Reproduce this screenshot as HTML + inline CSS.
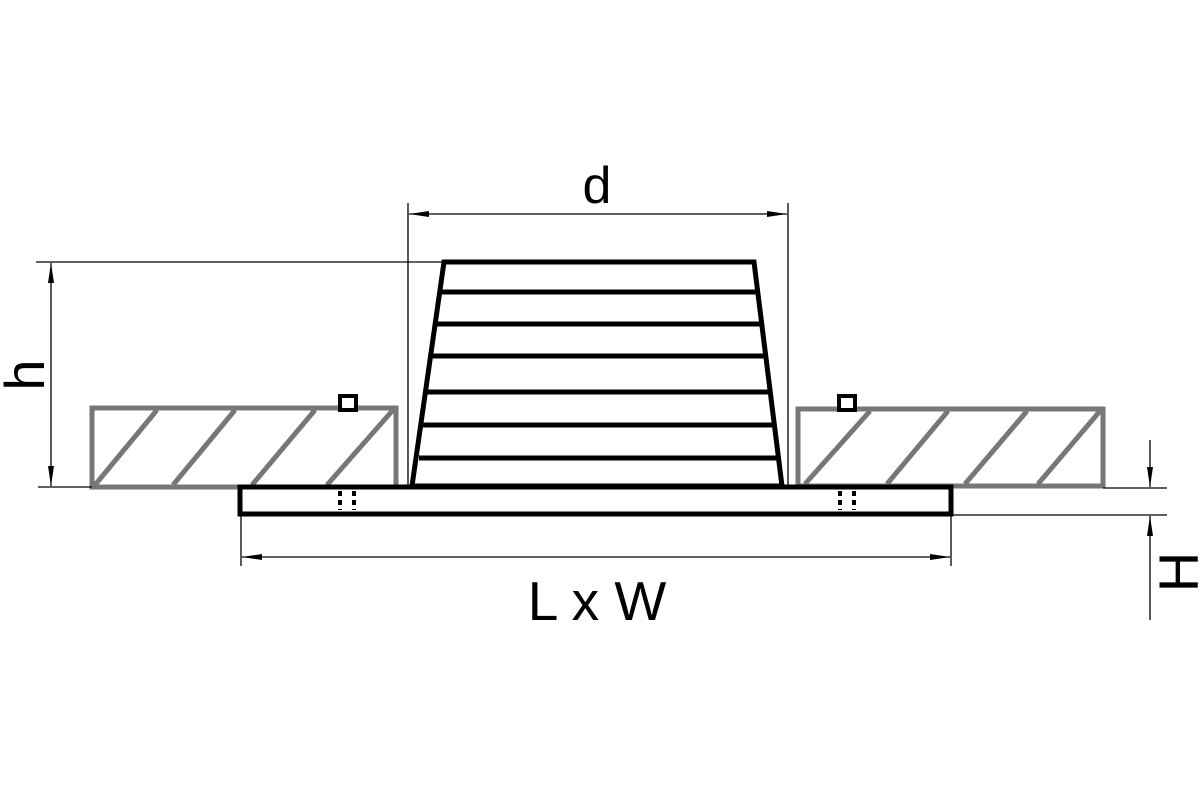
<!DOCTYPE html>
<html><head><style>html,body{margin:0;padding:0;background:#fff;}svg{display:block;}</style></head>
<body>
<svg width="1200" height="800" viewBox="0 0 1200 800" xmlns="http://www.w3.org/2000/svg">
<defs>
<marker id="a" viewBox="0 0 20 8" refX="20" refY="4" markerWidth="20" markerHeight="8" markerUnits="userSpaceOnUse" orient="auto-start-reverse"><path d="M0,1 L20,4 L0,7 Z" fill="#000"/></marker>
</defs>
<g stroke="#777" stroke-width="5" fill="none">
<rect x="92" y="408" width="304" height="79"/>
<line x1="95" y1="485" x2="157" y2="410"/>
<line x1="173" y1="485" x2="235" y2="410"/>
<line x1="252" y1="485" x2="315" y2="410"/>
<line x1="327" y1="485" x2="393" y2="410"/>
<rect x="798" y="409" width="305" height="77"/>
<line x1="805" y1="484" x2="870" y2="411"/>
<line x1="887" y1="484" x2="948" y2="411"/>
<line x1="965" y1="484" x2="1027" y2="411"/>
<line x1="1038" y1="484" x2="1100" y2="411"/>
</g>
<rect x="340" y="396" width="16" height="14" fill="#fff" stroke="#000" stroke-width="4"/>
<rect x="839" y="396" width="16" height="14" fill="#fff" stroke="#000" stroke-width="4"/>
<g stroke="#000" stroke-width="5" fill="none">
<polygon points="444,262 754,262 782,486 412,486"/>
<line x1="440" y1="292" x2="758" y2="292"/>
<line x1="436" y1="324" x2="762" y2="324"/>
<line x1="432" y1="356" x2="766" y2="356"/>
<line x1="427" y1="392" x2="770" y2="392"/>
<line x1="423" y1="425" x2="774" y2="425"/>
<line x1="419" y1="458" x2="778" y2="458"/>
</g>
<rect x="240" y="487" width="711" height="27" fill="#fff" stroke="#000" stroke-width="5"/>
<g stroke="#000" stroke-width="4" stroke-dasharray="5,4">
<line x1="340" y1="491" x2="340" y2="510"/><line x1="354" y1="491" x2="354" y2="510"/>
<line x1="840" y1="491" x2="840" y2="510"/><line x1="854" y1="491" x2="854" y2="510"/>
</g>
<g stroke="#000" stroke-width="1.3" fill="none">
<line x1="408" y1="203" x2="408" y2="487"/>
<line x1="788" y1="203" x2="788" y2="487"/>
<line x1="409" y1="214" x2="787" y2="214" marker-start="url(#a)" marker-end="url(#a)"/>
<line x1="36" y1="262" x2="444" y2="262"/>
<line x1="38" y1="487" x2="92" y2="487"/>
<line x1="51" y1="263" x2="51" y2="486" marker-start="url(#a)" marker-end="url(#a)"/>
<line x1="241" y1="514" x2="241" y2="566"/>
<line x1="951" y1="514" x2="951" y2="566"/>
<line x1="242" y1="557" x2="950" y2="557" marker-start="url(#a)" marker-end="url(#a)"/>
<line x1="1103" y1="488" x2="1167" y2="488"/>
<line x1="953" y1="515" x2="1167" y2="515"/>
<line x1="1150" y1="440" x2="1150" y2="487" marker-end="url(#a)"/>
<line x1="1150" y1="620" x2="1150" y2="516" marker-end="url(#a)"/>
</g>
<g font-family="'Liberation Sans', sans-serif" fill="#000">
<text x="597" y="203" font-size="52" text-anchor="middle">d</text>
<text x="597" y="620" font-size="55" text-anchor="middle">L x W</text>
<text transform="translate(44,375) rotate(-90)" font-size="56" text-anchor="middle">h</text>
<text transform="translate(1198,572) rotate(-90)" font-size="56" text-anchor="middle">H</text>
</g>
</svg>
</body></html>
